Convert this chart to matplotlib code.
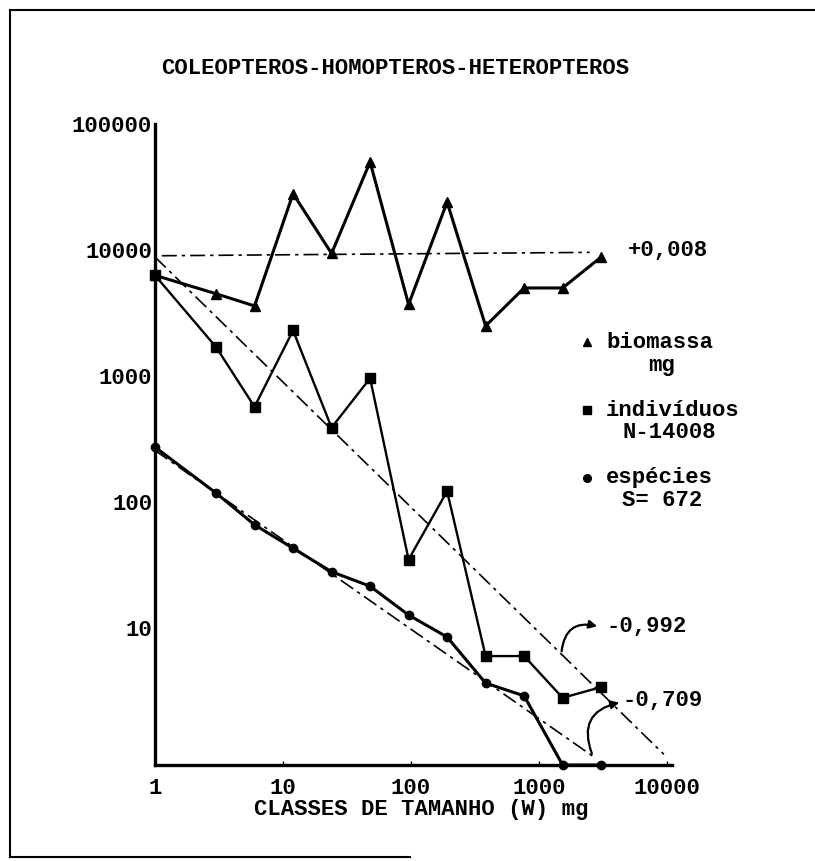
import numpy as np
import matplotlib.pyplot as plt
from matplotlib.lines import Line2D

# size classes (W, mg)
classes = [1, 3, 6, 12, 24, 48, 96, 192, 384, 768, 1536, 3072]

biomassa = [6300, 4500, 3600, 28000, 9400, 50000, 3700, 24000, 2500, 5000, 5000, 8800]
individuos = [6300, 1700, 570, 2300, 390, 960, 35, 122, 6, 6, 2.8, 3.4]
especies = [273, 118, 66, 43, 28, 21.5, 12.7, 8.5, 3.66, 2.9, 0, 0]

# fitted lines: (slope, value at W=1, last W)
fit_bio = (0.008, 9000, 2500)
fit_ind = (-0.992, 8800, 9500)
fit_esp = (-0.709, 257, 2650)

xticks = [1, 10, 100, 1000, 10000]
yticks = [10, 100, 1000, 10000, 100000]

W, H = 815, 861
FONT = "Liberation Mono"
FS = 16

fig = plt.figure(figsize=(W / 100, H / 100), dpi=100)
ax = fig.add_axes([155 / W, 1 - 765 / H, (672 - 155) / W, (765 - 124) / H])
ax.set_xscale("log")
ax.set_yscale("log")
ymin = 0.82
ax.set_xlim(1, 11000)
ax.set_ylim(ymin, 100000)


def fx(px):
    return px / W


def fy(py):
    return 1 - py / H


def fit_line(fit, x0=1.0):
    slope, a, xend = fit
    x = np.array([x0, xend])
    return x, a * x ** slope


ls = (0, (9, 3, 2, 3))
for fit, x0 in [(fit_bio, 1.13), (fit_ind, 1.0), (fit_esp, 1.0)]:
    x, y = fit_line(fit, x0)
    ax.plot(x, y, color="black", lw=1.2, linestyle=ls, clip_on=False)

ax.plot(classes, biomassa, color="black", lw=2.2, marker="^", ms=6.5, clip_on=False)
ax.plot(classes, individuos, color="black", lw=1.7, marker="s", ms=6.5, clip_on=False)
esp = np.maximum(np.array(especies, dtype=float), ymin)
ax.plot(classes, esp, color="black", lw=2.2, marker="o", ms=6, clip_on=False)

for side in ["top", "right"]:
    ax.spines[side].set_visible(False)
for side in ["left", "bottom"]:
    ax.spines[side].set_linewidth(2.4)

ax.set_xticks(xticks)
ax.set_xticklabels([str(v) for v in xticks])
ax.set_yticks(yticks)
ax.set_yticklabels([str(v) for v in yticks])
ax.minorticks_off()
ax.tick_params(axis="x", length=3, direction="in", pad=9, width=1)
ax.tick_params(axis="y", length=0, pad=2)
for lab in ax.get_xticklabels() + ax.get_yticklabels():
    lab.set_fontfamily(FONT)
    lab.set_fontweight("bold")
    lab.set_fontsize(FS)

txt = dict(family=FONT, fontweight="bold", fontsize=FS, color="black")
fig.text(fx(395), fy(68), "COLEOPTEROS-HOMOPTEROS-HETEROPTEROS", ha="center", va="center", **txt)
fig.text(fx(421), fy(810), "CLASSES DE TAMANHO (W) mg", ha="center", va="center", **txt)

# slope labels
fig.text(fx(628), fy(250), "+0,008", ha="left", va="center", **txt)
fig.text(fx(607), fy(627), "-0,992", ha="left", va="center", **txt)
fig.text(fx(622), fy(700), "-0,709", ha="left", va="center", **txt)

arrow = dict(arrowstyle="-|>", color="black", lw=1.6, mutation_scale=12)
x_a = 1500
ax.annotate("", xy=(fx(600), fy(627)), xycoords="figure fraction",
            xytext=(x_a, fit_ind[1] * x_a ** fit_ind[0]), textcoords="data",
            arrowprops=dict(connectionstyle="arc3,rad=-0.6", **arrow))
x_b = 2650
ax.annotate("", xy=(fx(622), fy(702)), xycoords="figure fraction",
            xytext=(x_b, fit_esp[1] * x_b ** fit_esp[0]), textcoords="data",
            arrowprops=dict(connectionstyle="arc3,rad=-0.6", **arrow))

# legend
leg = [("^", 342, "biomassa", "mg", 662, 365),
       ("s", 410, "indivíduos", "N-14008", 622, 433),
       ("o", 478, "espécies", "S= 672", 622, 501)]
for mk, py, l1, l2, x2, y2 in leg:
    fig.add_artist(Line2D([fx(587)], [fy(py)], marker=mk, ms=5.5, color="black",
                          transform=fig.transFigure))
    fig.text(fx(606), fy(py), l1, ha="left", va="center", **txt)
    ha = "center" if l2 == "mg" else "left"
    fig.text(fx(x2), fy(y2), l2, ha=ha, va="center", **txt)

# page frame
frame = dict(color="black", lw=1.5, transform=fig.transFigure)
fig.add_artist(Line2D([fx(10), fx(815)], [fy(10), fy(10)], **frame))
fig.add_artist(Line2D([fx(10), fx(10)], [fy(10), fy(857)], **frame))
fig.add_artist(Line2D([fx(10), fx(410)], [fy(857), fy(857)], **frame))

fig.savefig("out.png", dpi=100, facecolor="white")
